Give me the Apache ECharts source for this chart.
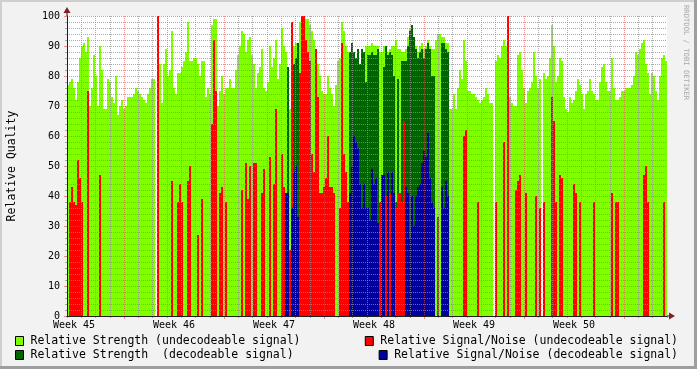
<!DOCTYPE html>
<html><head><meta charset="utf-8">
<script src="https://cdn.jsdelivr.net/npm/echarts@6/dist/echarts.min.js"></script>
<style>html,body{margin:0;padding:0;background:#f2f2f2}#c{width:697px;height:369px}</style>
</head><body><div id="c"></div>
<script>
// ---- data (one category per 2 px time slot, 300 slots = 6 weeks) ----
const weekLabels = ['Week 45','Week 46','Week 47','Week 48','Week 49','Week 50'];
const strengthUndec = [
 77,78,79,76,72,78,86,90,91,88, 93,70,76,87,80,70,90,82,69,69,
 79,78,73,71,80,67,70,72,69,70, 73,73,73,74,76,75,74,73,72,71,
 74,76,79,79,0,0,84,71,84,89,  80,82,95,76,74,81,81,83,85,88,
 98,85,85,86,86,84,80,85,85,73, 76,74,97,99,99,70,75,80,74,76,
 76,79,76,76,82,87,90,95,94,88, 92,93,87,84,76,81,83,89,76,75,
 78,90,83,86,92,79,84,96,90,88, 68,69,91,90,91,89,98,99,99,99,
 99,97,95,92,86,84,80,75,74,74, 80,76,74,70,77,85,86,98,95,90,
 88,88,0,0,0,0,0,0,0,90,       90,90,91,90,90,90,88,88,90,90,
 88,89,90,90,92,89,89,88,88,89, 93,96,97,93,90,88,90,91,89,90,
 92,90,89,89,92,94,94,93,93,91, 91,69,69,74,69,76,82,79,92,85,
 75,75,74,74,73,72,71,72,73,76, 74,71,71,0,85,87,86,90,92,90,
 76,73,71,70,70,87,88,82,76,71, 75,76,78,88,80,76,79,0,81,79,
 80,86,97,90,78,80,86,85,73,69, 68,73,71,72,75,79,77,74,69,74,
 75,79,75,74,72,72,78,83,84,78, 75,75,86,76,72,72,73,75,75,76,
 76,76,77,80,88,87,89,91,92,84, 81,74,81,80,75,72,80,86,87,85
];
// [slot, value]
const strengthDec = [
 [110,83],[113,84],[114,86],[115,91],[141,88],[142,91],[143,88],[144,86],[145,89],[146,84],
 [147,89],[148,88],[149,78],[150,87],[151,87],[152,88],[153,87],[154,87],[155,89],[156,38],
 [157,38],[158,83],[159,90],[160,87],[161,88],[162,87],[163,80],[164,38],[165,79],[166,40],
 [167,85],[168,85],[169,85],[170,90],[171,95],[172,97],[173,93],[174,89],[175,86],[176,88],
 [177,89],[178,86],[179,89],[180,91],[181,89],[182,80],[183,80],[187,91],[188,91],[189,89],[190,88]
];
const snUndec = [
 [1,38],[2,43],[3,38],[4,37],[5,52],[6,46],[7,38],[10,75],[16,47],[45,100],
 [52,45],[55,38],[56,44],[57,38],[60,45],[61,50],[65,27],[67,39],[72,64],[73,92],[74,75],
 [76,41],[77,43],[79,38],[87,42],[89,51],[90,39],[91,50],[93,51],[94,51],[97,41],[98,49],[101,53],
 [103,44],[104,69],[107,54],[108,43],[111,22],[112,98],[116,81],[117,100],[118,100],[119,92],
 [120,88],[121,85],[122,54],[123,48],[124,89],[125,73],[126,41],[127,41],[128,43],[129,46],
 [130,60],[131,43],[132,43],[133,41],[136,36],[137,91],[138,54],[139,48],[140,38],
 [156,38],[159,40],[161,41],[163,38],[164,36],[165,41],[166,41],[167,38],[168,65],[185,33],
 [198,60],[199,62],[205,38],[214,38],[218,58],[220,100],[224,42],[225,45],[226,47],[229,41],
 [234,40],[236,36],[238,38],[242,73],[243,65],[244,38],[246,47],[247,46],
 [253,44],[254,41],[256,38],[263,38],[272,41],[274,38],[275,38],[288,47],[289,50],[290,38],[298,38]
];
const snDec = [
 [109,41],[110,41],[112,36],[113,48],[114,50],[115,33],
 [141,41],[142,50],[143,60],[144,58],[145,56],[146,44],[147,36],[148,44],[149,36],[150,36],
 [151,32],[152,49],[153,44],[154,46],[155,31],[157,47],[158,47],[160,48],[162,48],[163,41],
 [169,43],[170,41],[171,26],[172,40],[173,30],[174,40],[175,43],[176,44],[177,51],[178,55],
 [179,53],[180,61],[181,46],[182,38],[183,36],[187,43],[188,36],[189,45],[190,40]
];
const seriesNames = [
 'Relative Strength (undecodeable signal)',
 'Relative Strength  (decodeable signal)',
 'Relative Signal/Noise (undecodeable signal)',
 'Relative Signal/Noise (decodeable signal)'
];
const seriesColors = ['#80ff00', '#006400', '#ff0000', '#00009c'];

// ---- chart ----
const FONT = '"DejaVu Sans Mono", monospace';
const GRID = 'rgba(143,143,143,0.75)', MGRID = 'rgba(222,79,79,0.6)';
const slots = strengthUndec.map((_, i) => i);
const days = Array.from({length: 43}, (_, i) => i);
const chart = echarts.init(document.getElementById('c'));

function legendAt(idx, pos) {
  return Object.assign({
    data: [seriesNames[idx]], orient: 'horizontal', padding: 0,
    itemWidth: 8, itemHeight: 9, icon: 'rect', selectedMode: false,
    itemStyle: {borderColor: '#000', borderWidth: 1},
    textStyle: {fontFamily: FONT, fontSize: 11.5, color: '#000', lineHeight: 14, padding: [0, 0, 0, 2]}
  }, pos);
}
function bar(idx, data) {
  return {
    name: seriesNames[idx], type: 'bar', data: data, color: seriesColors[idx],
    barCategoryGap: 0, barGap: '-100%', xAxisIndex: 0, yAxisIndex: 0,
    silent: true, z: 1, itemStyle: {color: seriesColors[idx]}
  };
}

chart.setOption({
  animation: false,
  backgroundColor: '#f2f2f2',
  grid: {left: 67, top: 16, width: 600, height: 300, show: true, backgroundColor: '#ffffff', borderWidth: 0},
  xAxis: [
    {type: 'category', data: slots, boundaryGap: true, zlevel: 1, z: 6,
     axisLine: {show: true, lineStyle: {color: '#1f1f1f', width: 1}},
     axisTick: {show: false},
     axisLabel: {interval: (i) => i % 50 === 3, formatter: (v, i) => weekLabels[Math.floor(i / 50)],
                 fontFamily: FONT, fontSize: 10, color: '#000', margin: 4},
     splitLine: {show: false}},
    {type: 'category', data: days, boundaryGap: false, zlevel: 1, z: 5, position: 'bottom',
     axisLine: {show: false}, axisLabel: {show: false},
     axisTick: {show: true, length: 2, interval: (i) => i % 7 !== 4, lineStyle: {color: GRID}},
     splitLine: {show: true, interval: (i) => i > 0 && i < 42 && i % 7 !== 4, lineStyle: {color: GRID, type: [1, 1], width: 1}}},
    {type: 'category', data: days, boundaryGap: false, zlevel: 1, z: 5, position: 'bottom',
     axisLine: {show: false}, axisLabel: {show: false},
     axisTick: {show: true, length: 3, interval: (i) => i % 7 === 4, lineStyle: {color: MGRID}},
     splitLine: {show: true, interval: (i) => i % 7 === 4, lineStyle: {color: MGRID, type: [1, 1], width: 1}}}
  ],
  yAxis: {
    type: 'value', min: 0, max: 100, interval: 10, zlevel: 1, z: 5,
    axisLine: {show: true, lineStyle: {color: '#1f1f1f'}},
    axisTick: {show: true, length: 3, lineStyle: {color: MGRID}},
    minorTick: {show: true, splitNumber: 5, length: 2, lineStyle: {color: GRID}},
    axisLabel: {fontFamily: FONT, fontSize: 10, color: '#000', margin: 7},
    splitLine: {show: true, lineStyle: {color: MGRID, type: [1, 1], width: 1}},
    minorSplitLine: {show: true, lineStyle: {color: GRID, type: [1, 1], width: 1}}
  },
  legend: [
    legendAt(0, {left: 15, top: 334}),
    legendAt(2, {right: 19, top: 334}),
    legendAt(1, {left: 15, top: 348}),
    legendAt(3, {right: 19, top: 348})
  ],
  series: [
    bar(0, strengthUndec),
    bar(1, strengthDec),
    bar(2, snUndec),
    bar(3, snDec)
  ],
  graphic: [
    {type: 'rect', z: 100, shape: {x: 0, y: 0, width: 697, height: 2}, style: {fill: '#cfcfcf'}},
    {type: 'rect', z: 100, shape: {x: 0, y: 0, width: 2, height: 369}, style: {fill: '#cfcfcf'}},
    {type: 'rect', z: 100, shape: {x: 0, y: 366, width: 697, height: 3}, style: {fill: '#9e9e9e'}},
    {type: 'rect', z: 100, shape: {x: 694, y: 0, width: 3, height: 369}, style: {fill: '#9e9e9e'}},
    {type: 'line', z: 100, shape: {x1: 67, y1: 16, x2: 67, y2: 12}, style: {stroke: '#1f1f1f', lineWidth: 1}},
    {type: 'line', z: 100, shape: {x1: 667, y1: 316, x2: 671, y2: 316}, style: {stroke: '#1f1f1f', lineWidth: 1}},
    {type: 'polygon', z: 101, shape: {points: [[67, 7], [63.5, 13], [70.5, 13]]}, style: {fill: '#801f1f'}},
    {type: 'polygon', z: 101, shape: {points: [[675, 316], [669, 312.5], [669, 319.5]]}, style: {fill: '#801f1f'}},
    {type: 'text', z: 100, x: 12, y: 166, rotation: Math.PI / 2,
     style: {text: 'Relative Quality', x: 0, y: 0, align: 'center', verticalAlign: 'middle',
             font: '11.5px "DejaVu Sans Mono", monospace', fill: '#000'}},
    {type: 'text', z: 100, x: 686, y: 5, rotation: -Math.PI / 2,
     style: {text: 'RRDTOOL / TOBI OETIKER', x: 0, y: 0, align: 'left', verticalAlign: 'middle',
             font: '7.2px "DejaVu Sans Mono", monospace', fill: '#a8a8a8'}}
  ]
});
</script></body></html>
